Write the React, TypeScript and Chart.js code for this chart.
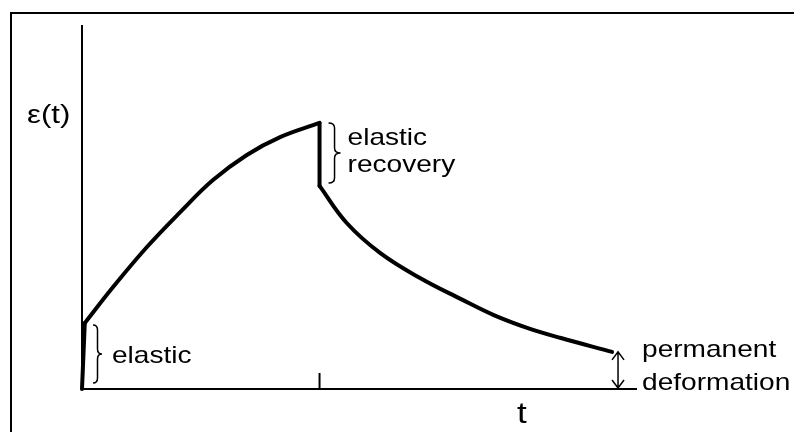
import React, { useEffect, useRef } from "react";
import { Chart, registerables } from "chart.js";

Chart.register(...registerables);

// ---- data ----
const loadT = [0.05, 0.56, 1.17, 1.77, 2.36, 2.97, 3.57, 4.28];
const loadStrain = [1.81, 2.8, 3.9, 4.86, 5.74, 6.43, 6.92, 7.31];
const recoverT = [4.28, 4.77, 5.37, 6.09, 6.83, 7.42, 8.02, 8.63, 9.55];
const recoverStrain = [5.58, 4.56, 3.74, 3.05, 2.47, 2.03, 1.68, 1.4, 1.02];
const unloadTime = 4.28;
const xMax = 10;
const yMax = 10;
const tickLength = 0.44;

const yLabel = "ε(t)";
const xLabel = "t";
const elasticLabel = "elastic";
const recoveryLabel = ["elastic", "recovery"];
const permanentLabel = ["permanent", "deformation"];

const FONT = '"Liberation Sans", Arial, sans-serif';
const STRETCH = 1.17;

function drawText(ctx: CanvasRenderingContext2D, text: string, x: number, y: number, size: number, align: "left" | "center" = "left", sx = STRETCH) {
  ctx.save();
  ctx.font = `${size}px ${FONT}`;
  ctx.fillStyle = "#000";
  ctx.textBaseline = "alphabetic";
  ctx.translate(x, y);
  ctx.scale(sx, 1);
  const w = ctx.measureText(text).width;
  ctx.fillText(text, align === "center" ? -w / 2 : 0, 0);
  ctx.restore();
}

function drawBrace(ctx: CanvasRenderingContext2D, x0: number, top: number, bottom: number, w: number) {
  const mid = (top + bottom) / 2;
  const r = Math.min(5, (bottom - top) / 6);
  const xm = x0 + w / 2;
  ctx.save();
  ctx.strokeStyle = "#000";
  ctx.lineWidth = 1.5;
  ctx.beginPath();
  ctx.moveTo(x0, top);
  ctx.quadraticCurveTo(xm, top, xm, top + r);
  ctx.lineTo(xm, mid - r);
  ctx.quadraticCurveTo(xm, mid, x0 + w, mid);
  ctx.quadraticCurveTo(xm, mid, xm, mid + r);
  ctx.lineTo(xm, bottom - r);
  ctx.quadraticCurveTo(xm, bottom, x0, bottom);
  ctx.stroke();
  ctx.restore();
}

function drawDoubleArrow(ctx: CanvasRenderingContext2D, x: number, y1: number, y2: number) {
  const hw = 6;
  const hh = 8;
  ctx.save();
  ctx.strokeStyle = "#000";
  ctx.lineWidth = 1.5;
  ctx.beginPath();
  ctx.moveTo(x, y1);
  ctx.lineTo(x, y2);
  ctx.moveTo(x - hw, y1 + hh);
  ctx.lineTo(x, y1);
  ctx.lineTo(x + hw, y1 + hh);
  ctx.moveTo(x - hw, y2 - hh);
  ctx.lineTo(x, y2);
  ctx.lineTo(x + hw, y2 - hh);
  ctx.stroke();
  ctx.restore();
}

const annotationPlugin = {
  id: "annotations",
  beforeDraw(chart: any) {
    const ctx = chart.ctx as CanvasRenderingContext2D;
    ctx.save();
    ctx.fillStyle = "#fff";
    ctx.fillRect(0, 0, chart.width, chart.height);
    ctx.strokeStyle = "#000";
    ctx.lineWidth = 2;
    ctx.beginPath();
    ctx.moveTo(11, chart.height + 5);
    ctx.lineTo(11, 13);
    ctx.lineTo(chart.width + 5, 13);
    ctx.stroke();
    ctx.restore();
  },
  afterDraw(chart: any) {
    const ctx = chart.ctx as CanvasRenderingContext2D;
    const xs = chart.scales.x;
    const ys = chart.scales.y;
    const area = chart.chartArea;
    const x0 = xs.getPixelForValue(0);
    const y0 = ys.getPixelForValue(0);

    // axis labels
    drawText(ctx, yLabel, x0 - 55, area.top + 98, 26, "left", 1.2);
    drawText(ctx, xLabel, area.left + 440, y0 + 34, 30, "center");

    // elastic brace
    const yEl = ys.getPixelForValue(loadStrain[0]);
    drawBrace(ctx, x0 + 11, yEl + 2, y0 - 6, 9);
    drawText(ctx, elasticLabel, x0 + 30, y0 - 26, 24);

    // elastic recovery brace
    const xu = xs.getPixelForValue(unloadTime);
    const yPeak = ys.getPixelForValue(loadStrain[loadStrain.length - 1]);
    const yRec = ys.getPixelForValue(recoverStrain[0]);
    drawBrace(ctx, xu + 9, yPeak, yRec - 3, 12);
    drawText(ctx, recoveryLabel[0], xu + 28, yPeak + 22, 24);
    drawText(ctx, recoveryLabel[1], xu + 28, yPeak + 49, 24);

    // permanent deformation arrow
    const xe = xs.getPixelForValue(recoverT[recoverT.length - 1]);
    const ye = ys.getPixelForValue(recoverStrain[recoverStrain.length - 1]);
    drawDoubleArrow(ctx, xe + 6, ye, y0 - 1);
    drawText(ctx, permanentLabel[0], xe + 30, ye + 5, 24);
    drawText(ctx, permanentLabel[1], xe + 30, y0 + 1, 24);
  },
};

export default function App() {
  const ref = useRef<HTMLCanvasElement | null>(null);

  useEffect(() => {
    if (!ref.current) return;
    const curve = {
      borderColor: "#000",
      borderWidth: 4,
      pointRadius: 0,
      fill: false,
      clip: false as any,
      borderCapStyle: "round" as const,
      borderJoinStyle: "round" as const,
    };
    const axis = {
      borderColor: "#000",
      borderWidth: 2,
      pointRadius: 0,
      fill: false,
      clip: false as any,
      tension: 0,
    };
    const chart = new Chart(ref.current, {
      type: "line",
      data: {
        datasets: [
          { ...axis, data: [{ x: 0, y: 0 }, { x: 0, y: yMax }] },
          { ...axis, data: [{ x: 0, y: 0 }, { x: xMax, y: 0 }] },
          { ...axis, data: [{ x: unloadTime, y: 0 }, { x: unloadTime, y: tickLength }] },
          { ...curve, tension: 0, data: [{ x: 0, y: 0 }, { x: loadT[0], y: loadStrain[0] }] },
          { ...curve, tension: 0.4, data: loadT.map((t, i) => ({ x: t, y: loadStrain[i] })) },
          { ...curve, tension: 0, data: [{ x: unloadTime, y: loadStrain[loadStrain.length - 1] }, { x: unloadTime, y: recoverStrain[0] }] },
          { ...curve, tension: 0.4, data: recoverT.map((t, i) => ({ x: t, y: recoverStrain[i] })) },
        ] as any,
      },
      options: {
        animation: false,
        responsive: false,
        devicePixelRatio: 1,
        layout: { padding: { left: 82, right: 157, top: 25, bottom: 43 } },
        plugins: { legend: { display: false }, title: { display: false }, tooltip: { enabled: false } },
        scales: {
          x: { type: "linear", min: 0, max: xMax, display: false },
          y: { type: "linear", min: 0, max: yMax, display: false },
        },
        events: [],
      },
      plugins: [annotationPlugin],
    });
    return () => chart.destroy();
  }, []);

  return (
    <div style={{ position: "absolute", left: 0, top: 0, width: 794, height: 432, background: "#fff" }}>
      <canvas ref={ref} width={794} height={432} style={{ display: "block" }} />
    </div>
  );
}
